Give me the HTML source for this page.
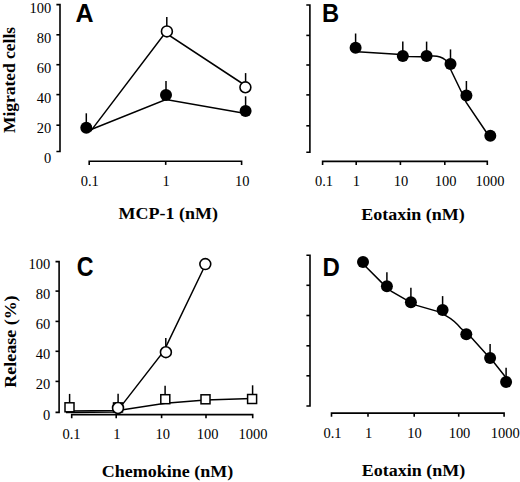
<!DOCTYPE html>
<html><head><meta charset="utf-8"><style>
html,body{margin:0;padding:0;background:#fff;overflow:hidden;}
svg{display:block;}
.tk{font-family:"Liberation Serif",serif;font-size:14.5px;fill:#000;}
.ti{font-family:"Liberation Serif",serif;font-size:18px;font-weight:bold;fill:#000;}
.pl{font-family:"Liberation Sans",sans-serif;font-size:25px;font-weight:bold;fill:#000;}
</style></head><body>
<svg width="520" height="482" viewBox="0 0 520 482" stroke="#000" stroke-linecap="butt">
<rect width="520" height="482" fill="#fff" stroke="none"/>
<g stroke="#000" fill="none">
<path d="M56.4,4.6 H60.0 V151.5 H56.4" fill="none" stroke-width="1.6"/>
<line x1="56.4" y1="34.8" x2="60.0" y2="34.8" stroke-width="1.6"/>
<line x1="56.4" y1="64.7" x2="60.0" y2="64.7" stroke-width="1.6"/>
<line x1="56.4" y1="94.6" x2="60.0" y2="94.6" stroke-width="1.6"/>
<line x1="56.4" y1="125.2" x2="60.0" y2="125.2" stroke-width="1.6"/>
<text stroke="none" x="0" y="0" class="tk" text-anchor="end" transform="translate(51.3 12.8) scale(1 1.06)">100</text>
<text stroke="none" x="0" y="0" class="tk" text-anchor="end" transform="translate(51.3 43.0) scale(1 1.06)">80</text>
<text stroke="none" x="0" y="0" class="tk" text-anchor="end" transform="translate(51.3 72.8) scale(1 1.06)">60</text>
<text stroke="none" x="0" y="0" class="tk" text-anchor="end" transform="translate(51.3 102.8) scale(1 1.06)">40</text>
<text stroke="none" x="0" y="0" class="tk" text-anchor="end" transform="translate(51.3 133.4) scale(1 1.06)">20</text>
<text stroke="none" x="0" y="0" class="tk" text-anchor="end" transform="translate(51.3 163.4) scale(1 1.06)">0</text>
<path d="M89.2,164.9 V161.3 H241.6 V164.9" fill="none" stroke-width="1.6"/>
<line x1="165.7" y1="161.3" x2="165.7" y2="164.9" stroke-width="1.6"/>
<text stroke="none" x="0" y="0" class="tk" text-anchor="middle" transform="translate(89.8 186.4) scale(1 1.06)">0.1</text>
<text stroke="none" x="0" y="0" class="tk" text-anchor="middle" transform="translate(166 186.4) scale(1 1.06)">1</text>
<text stroke="none" x="0" y="0" class="tk" text-anchor="middle" transform="translate(242.2 186.4) scale(1 1.06)">10</text>
<path d="M306.29999999999995,5.0 H309.9 V152.3 H306.29999999999995" fill="none" stroke-width="1.6"/>
<line x1="306.29999999999995" y1="35.4" x2="309.9" y2="35.4" stroke-width="1.6"/>
<line x1="306.29999999999995" y1="65.0" x2="309.9" y2="65.0" stroke-width="1.6"/>
<line x1="306.29999999999995" y1="94.9" x2="309.9" y2="94.9" stroke-width="1.6"/>
<line x1="306.29999999999995" y1="125.8" x2="309.9" y2="125.8" stroke-width="1.6"/>
<path d="M322.6,165.0 V161.4 H487.3 V165.0" fill="none" stroke-width="1.6"/>
<line x1="356.2" y1="161.4" x2="356.2" y2="165.0" stroke-width="1.6"/>
<line x1="400.4" y1="161.4" x2="400.4" y2="165.0" stroke-width="1.6"/>
<line x1="444.8" y1="161.4" x2="444.8" y2="165.0" stroke-width="1.6"/>
<text stroke="none" x="0" y="0" class="tk" text-anchor="middle" transform="translate(324 186.4) scale(1 1.06)">0.1</text>
<text stroke="none" x="0" y="0" class="tk" text-anchor="middle" transform="translate(356.3 186.4) scale(1 1.06)">1</text>
<text stroke="none" x="0" y="0" class="tk" text-anchor="middle" transform="translate(401.1 186.4) scale(1 1.06)">10</text>
<text stroke="none" x="0" y="0" class="tk" text-anchor="middle" transform="translate(445.7 186.4) scale(1 1.06)">100</text>
<text stroke="none" x="0" y="0" class="tk" text-anchor="middle" transform="translate(490.1 186.4) scale(1 1.06)">1000</text>
<path d="M55.5,261.6 H59.1 V412.4 H55.5" fill="none" stroke-width="1.6"/>
<line x1="55.5" y1="291.1" x2="59.1" y2="291.1" stroke-width="1.6"/>
<line x1="55.5" y1="321.4" x2="59.1" y2="321.4" stroke-width="1.6"/>
<line x1="55.5" y1="351.3" x2="59.1" y2="351.3" stroke-width="1.6"/>
<line x1="55.5" y1="381.4" x2="59.1" y2="381.4" stroke-width="1.6"/>
<text stroke="none" x="0" y="0" class="tk" text-anchor="end" transform="translate(50.3 269.1) scale(1 1.06)">100</text>
<text stroke="none" x="0" y="0" class="tk" text-anchor="end" transform="translate(50.3 299.0) scale(1 1.06)">80</text>
<text stroke="none" x="0" y="0" class="tk" text-anchor="end" transform="translate(50.3 329.1) scale(1 1.06)">60</text>
<text stroke="none" x="0" y="0" class="tk" text-anchor="end" transform="translate(50.3 359.3) scale(1 1.06)">40</text>
<text stroke="none" x="0" y="0" class="tk" text-anchor="end" transform="translate(50.3 389.40000000000003) scale(1 1.06)">20</text>
<text stroke="none" x="0" y="0" class="tk" text-anchor="end" transform="translate(50.3 419.7) scale(1 1.06)">0</text>
<path d="M71.7,418.20000000000005 V414.6 H252.7 V418.20000000000005" fill="none" stroke-width="1.6"/>
<line x1="116.2" y1="414.6" x2="116.2" y2="418.20000000000005" stroke-width="1.6"/>
<line x1="161.6" y1="414.6" x2="161.6" y2="418.20000000000005" stroke-width="1.6"/>
<line x1="206.0" y1="414.6" x2="206.0" y2="418.20000000000005" stroke-width="1.6"/>
<text stroke="none" x="0" y="0" class="tk" text-anchor="middle" transform="translate(71.5 439.40000000000003) scale(1 1.06)">0.1</text>
<text stroke="none" x="0" y="0" class="tk" text-anchor="middle" transform="translate(116.8 439.40000000000003) scale(1 1.06)">1</text>
<text stroke="none" x="0" y="0" class="tk" text-anchor="middle" transform="translate(162.8 439.40000000000003) scale(1 1.06)">10</text>
<text stroke="none" x="0" y="0" class="tk" text-anchor="middle" transform="translate(207.6 439.40000000000003) scale(1 1.06)">100</text>
<text stroke="none" x="0" y="0" class="tk" text-anchor="middle" transform="translate(253.1 439.40000000000003) scale(1 1.06)">1000</text>
<path d="M306.4,255.3 H310.0 V406.0 H306.4" fill="none" stroke-width="1.6"/>
<line x1="306.4" y1="285.3" x2="310.0" y2="285.3" stroke-width="1.6"/>
<line x1="306.4" y1="315.5" x2="310.0" y2="315.5" stroke-width="1.6"/>
<line x1="306.4" y1="345.8" x2="310.0" y2="345.8" stroke-width="1.6"/>
<line x1="306.4" y1="375.8" x2="310.0" y2="375.8" stroke-width="1.6"/>
<path d="M331.5,416.70000000000005 V413.1 H504.1 V416.70000000000005" fill="none" stroke-width="1.6"/>
<line x1="368.0" y1="413.1" x2="368.0" y2="416.70000000000005" stroke-width="1.6"/>
<line x1="414.2" y1="413.1" x2="414.2" y2="416.70000000000005" stroke-width="1.6"/>
<line x1="458.7" y1="413.1" x2="458.7" y2="416.70000000000005" stroke-width="1.6"/>
<text stroke="none" x="0" y="0" class="tk" text-anchor="middle" transform="translate(332.5 438.40000000000003) scale(1 1.06)">0.1</text>
<text stroke="none" x="0" y="0" class="tk" text-anchor="middle" transform="translate(368.6 438.40000000000003) scale(1 1.06)">1</text>
<text stroke="none" x="0" y="0" class="tk" text-anchor="middle" transform="translate(414.5 438.40000000000003) scale(1 1.06)">10</text>
<text stroke="none" x="0" y="0" class="tk" text-anchor="middle" transform="translate(459.5 438.40000000000003) scale(1 1.06)">100</text>
<text stroke="none" x="0" y="0" class="tk" text-anchor="middle" transform="translate(505.2 438.40000000000003) scale(1 1.06)">1000</text>
<polyline points="90.5,131.4 165.3,32.8 245.4,85.5" fill="none" stroke-width="1.5"/>
<polyline points="88,130.7 165.9,99.6 245.6,113.6" fill="none" stroke-width="1.5"/>
<line x1="166.8" y1="17" x2="166.8" y2="26" stroke-width="1.5"/>
<line x1="245.6" y1="73.1" x2="245.6" y2="82" stroke-width="1.5"/>
<circle cx="166.9" cy="31.4" r="5.45" fill="#fff" stroke-width="1.6"/>
<circle cx="245.4" cy="87.3" r="5.45" fill="#fff" stroke-width="1.6"/>
<line x1="86.3" y1="113.3" x2="86.3" y2="123" stroke-width="1.5"/>
<line x1="166" y1="81" x2="166" y2="90" stroke-width="1.5"/>
<line x1="245.6" y1="96.3" x2="245.6" y2="106" stroke-width="1.5"/>
<circle cx="86.3" cy="127.7" r="6.0" fill="#000" stroke="none"/>
<circle cx="166" cy="94.9" r="6.0" fill="#000" stroke="none"/>
<circle cx="245.6" cy="111" r="6.0" fill="#000" stroke="none"/>
<path d="M355.6,51.8 L361.4,52.1 L396.9,54.2 L408.7,56.5 L420.8,56.7 L432.4,56.0 C437,55.8 442,57.1 445.5,60.0 L451.1,70.5 L461,91 L466.2,102.4 L485.5,131 L490.3,138" fill="none" stroke-width="1.5"/>
<line x1="355.6" y1="33.5" x2="355.6" y2="43.8" stroke-width="1.5"/>
<line x1="402.8" y1="41.6" x2="402.8" y2="51.9" stroke-width="1.5"/>
<line x1="426.6" y1="41.6" x2="426.6" y2="51.9" stroke-width="1.5"/>
<line x1="450.5" y1="49.4" x2="450.5" y2="60.099999999999994" stroke-width="1.5"/>
<line x1="466.4" y1="81" x2="466.4" y2="91.4" stroke-width="1.5"/>
<circle cx="355.6" cy="47.8" r="6.0" fill="#000" stroke="none"/>
<circle cx="402.8" cy="55.9" r="6.0" fill="#000" stroke="none"/>
<circle cx="426.6" cy="55.9" r="6.0" fill="#000" stroke="none"/>
<circle cx="450.5" cy="64.1" r="6.0" fill="#000" stroke="none"/>
<circle cx="466.4" cy="95.4" r="6.0" fill="#000" stroke="none"/>
<circle cx="490.3" cy="135.7" r="6.0" fill="#000" stroke="none"/>
<polyline points="69.5,410.9 118,410.6 165.3,403.3 205.5,400.1 252,398.5" fill="none" stroke-width="1.5"/>
<polyline points="66,412.4 116.5,412.1 164,350.9 205.3,265" fill="none" stroke-width="1.5"/>
<line x1="69.6" y1="393.9" x2="69.6" y2="403" stroke-width="1.5"/>
<line x1="118.1" y1="393.7" x2="118.1" y2="403" stroke-width="1.5"/>
<line x1="165.1" y1="385.7" x2="165.1" y2="395" stroke-width="1.5"/>
<line x1="252.6" y1="385.3" x2="252.6" y2="395" stroke-width="1.5"/>
<line x1="165.8" y1="338" x2="165.8" y2="347" stroke-width="1.5"/>
<rect x="65.0" y="402.8" width="9.0" height="9.0" fill="#fff" stroke-width="1.5"/>
<rect x="113.5" y="402.9" width="9.0" height="9.0" fill="#fff" stroke-width="1.5"/>
<rect x="160.8" y="394.7" width="9.0" height="9.0" fill="#fff" stroke-width="1.5"/>
<rect x="201.0" y="394.8" width="9.0" height="9.0" fill="#fff" stroke-width="1.5"/>
<rect x="247.6" y="394.5" width="9.0" height="9.0" fill="#fff" stroke-width="1.5"/>
<circle cx="118" cy="408" r="5.45" fill="#fff" stroke-width="1.6"/>
<circle cx="165.9" cy="352.2" r="5.45" fill="#fff" stroke-width="1.6"/>
<circle cx="205.3" cy="264.1" r="5.45" fill="#fff" stroke-width="1.6"/>
<path d="M363,263.9 L366.4,267.3 L382,282.9 L391.5,291.5 L405.4,299.3 L416.6,305.4 L437.4,311.4 L446.2,315.9 C450,318 456,322.5 460.6,328 L472,338.3 L485.5,353.3 L494.8,363.6 L504.5,375.7 L506,377.6" fill="none" stroke-width="1.5"/>
<line x1="386.9" y1="272.2" x2="386.9" y2="282.3" stroke-width="1.5"/>
<line x1="410.9" y1="287.7" x2="410.9" y2="298.3" stroke-width="1.5"/>
<line x1="442.6" y1="296.1" x2="442.6" y2="306.0" stroke-width="1.5"/>
<line x1="490.1" y1="343.9" x2="490.1" y2="354.0" stroke-width="1.5"/>
<line x1="506.1" y1="367.7" x2="506.1" y2="378.0" stroke-width="1.5"/>
<circle cx="363" cy="262.1" r="6.0" fill="#000" stroke="none"/>
<circle cx="386.9" cy="286.3" r="6.0" fill="#000" stroke="none"/>
<circle cx="410.9" cy="302.3" r="6.0" fill="#000" stroke="none"/>
<circle cx="442.6" cy="310.0" r="6.0" fill="#000" stroke="none"/>
<circle cx="466.3" cy="334.2" r="6.0" fill="#000" stroke="none"/>
<circle cx="490.1" cy="358.0" r="6.0" fill="#000" stroke="none"/>
<circle cx="506.1" cy="382.0" r="6.0" fill="#000" stroke="none"/>
<text stroke="none" x="0" y="0" class="ti" text-anchor="middle" transform="translate(168.3 219.4) scale(1 0.95)">MCP-1 (nM)</text>
<text stroke="none" x="0" y="0" class="ti" text-anchor="middle" transform="translate(413.0 219.6) scale(1 0.95)">Eotaxin (nM)</text>
<text stroke="none" x="0" y="0" class="ti" text-anchor="middle" transform="translate(167.5 477.3) scale(1 0.95)">Chemokine (nM)</text>
<text stroke="none" x="0" y="0" class="ti" text-anchor="middle" transform="translate(413.6 475.5) scale(1 0.95)">Eotaxin (nM)</text>
<text stroke="none" x="0" y="0" class="ti" text-anchor="middle" transform="translate(15.3 80.0) rotate(-90) scale(0.97 0.95)">Migrated cells</text>
<text stroke="none" x="0" y="0" class="ti" text-anchor="middle" transform="translate(16.2 341.6) rotate(-90) scale(1.0 0.95)">Release (%)</text>
<text stroke="none" x="75.5" y="22.2" class="pl" text-anchor="start" >A</text>
<text stroke="none" x="0" y="0" class="pl" text-anchor="start" transform="translate(322.1 22.1) scale(0.95 1.02)">B</text>
<text stroke="none" x="0" y="0" class="pl" text-anchor="start" transform="translate(76.75 275.6) scale(0.93 1.09)">C</text>
<text stroke="none" x="0" y="0" class="pl" text-anchor="start" transform="translate(322.6 275.6) scale(0.96 1.01)">D</text>
</g>
</svg>
</body></html>
